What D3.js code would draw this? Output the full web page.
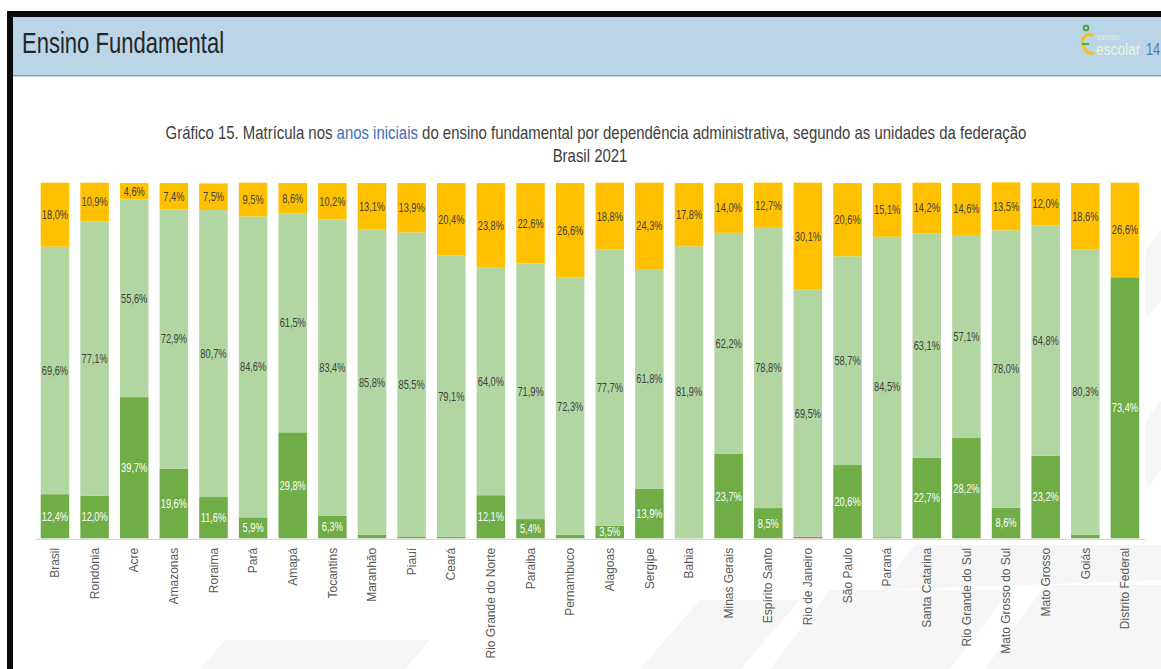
<!DOCTYPE html>
<html lang="pt-BR">
<head>
<meta charset="utf-8">
<script src="https://cdn.jsdelivr.net/npm/d3@7"></script>
<style>
  html, body { margin: 0; padding: 0; background: #fff; }
  svg { display: block; }
</style>
</head>
<body>
<svg id="chart" width="1161" height="669"></svg>
<script>
// Unidades da federação (eixo X)
const categories = [
  "Brasil", "Rondônia", "Acre", "Amazonas", "Roraima", "Pará", "Amapá", "Tocantins",
  "Maranhão", "Piauí", "Ceará", "Rio Grande do Norte", "Paraiba", "Pernambuco",
  "Alagoas", "Sergipe", "Bahia", "Minas Gerais", "Espírito Santo", "Rio de Janeiro",
  "São Paulo", "Paraná", "Santa Catarina", "Rio Grande do Sul", "Mato Grosso do Sul",
  "Mato Grosso", "Goiás", "Distrito Federal"
];

// Participação (%) de cada dependência administrativa
const federal = [
  0, 0, 0, 0, 0, 0, 0, 0, 0, 0, 0, 0, 0, 0,
  0, 0, 0, 0, 0, 0.3, 0, 0, 0, 0, 0, 0, 0, 0
];
const estadual = [
  12.4, 12.0, 39.7, 19.6, 11.6, 5.9, 29.8, 6.3, 1.0, 0.5, 0.4, 12.1, 5.4, 1.0,
  3.5, 13.9, 0.2, 23.7, 8.5, 0.1, 20.6, 0.3, 22.7, 28.2, 8.6, 23.2, 1.0, 73.4
];
const municipal = [
  69.6, 77.1, 55.6, 72.9, 80.7, 84.6, 61.5, 83.4, 85.8, 85.5, 79.1, 64.0, 71.9, 72.3,
  77.7, 61.8, 81.9, 62.2, 78.8, 69.5, 58.7, 84.5, 63.1, 57.1, 78.0, 64.8, 80.3, 0
];
const privada = [
  18.0, 10.9, 4.6, 7.4, 7.5, 9.5, 8.6, 10.2, 13.1, 13.9, 20.4, 23.8, 22.6, 26.6,
  18.8, 24.3, 17.8, 14.0, 12.7, 30.1, 20.6, 15.1, 14.2, 14.6, 13.5, 12.0, 18.6, 26.6
];

const seriesKeys = ["Federal", "Estadual", "Municipal", "Privada"];
const seriesColors = { Federal: "#d9342b", Estadual: "#70ad47", Municipal: "#b1d6a2", Privada: "#ffc000" };
const labelColors = { Federal: "#ffffff", Estadual: "#ffffff", Municipal: "#404040", Privada: "#404040" };

const rows = categories.map((uf, i) => ({
  uf,
  Federal: federal[i],
  Estadual: estadual[i],
  Municipal: municipal[i],
  Privada: privada[i]
}));

const SANS = '"Liberation Sans", Arial, sans-serif';

const svg = d3.select("#chart");
const W = 1161, H = 669;

// Text drawn with horizontally compressed glyphs (narrow typeface look)
function narrowText(parent, cx, cy, size, factor, anchor) {
  return parent.append("text")
    .attr("transform", `translate(${cx},${cy}) scale(${factor},1)`)
    .attr("text-anchor", anchor || "start")
    .attr("font-family", SANS)
    .attr("font-size", size);
}

svg.append("rect").attr("width", W).attr("height", H).attr("fill", "#ffffff");

// Marca d'água clara ao fundo
const wm = svg.append("g").attr("fill", "#f6f6f6");
[
  "M640,669 L700,600 L800,600 L740,669 Z",
  "M770,669 L830,590 L1010,590 L950,669 Z",
  "M985,669 L1045,585 L1161,585 L1161,669 Z",
  "M880,590 L915,545 L1161,545 L1161,580 Z",
  "M1146,420 L1161,400 L1161,470 L1146,490 Z",
  "M1146,250 L1161,230 L1161,300 L1146,320 Z",
  "M200,669 L225,640 L430,640 L405,669 Z"
].forEach(d => wm.append("path").attr("d", d));

// Faixa de cabeçalho da página
svg.append("rect").attr("x", 7).attr("y", 11).attr("width", W - 7).attr("height", 6).attr("fill", "#0a0a0a");
svg.append("rect").attr("x", 7).attr("y", 11).attr("width", 6).attr("height", H - 11).attr("fill", "#0a0a0a");
svg.append("rect").attr("x", 13).attr("y", 17).attr("width", W - 13).attr("height", 58).attr("fill", "#bad5e8");
svg.append("rect").attr("x", 13).attr("y", 75).attr("width", W - 13).attr("height", 1.5).attr("fill", "#7f9fb4");

narrowText(svg, 22, 53, 29, 0.76)
  .attr("fill", "#262626")
  .text("Ensino Fundamental");

// Logotipo do Censo Escolar
const logo = svg.append("g");
logo.append("circle").attr("cx", 1086).attr("cy", 28).attr("r", 2.4)
  .attr("fill", "none").attr("stroke", "#3f9b3a").attr("stroke-width", 1.6);
logo.append("path")
  .attr("d", "M1092,35 C1085,33 1081,39 1083,45 C1084,50 1088,54 1093,53")
  .attr("fill", "none").attr("stroke", "#f2c418").attr("stroke-width", 3).attr("stroke-linecap", "round");
logo.append("path")
  .attr("d", "M1082,44 L1089,44")
  .attr("stroke", "#5aa83a").attr("stroke-width", 2);
logo.append("text").attr("x", 1097).attr("y", 39.5)
  .attr("font-family", SANS).attr("font-size", 8.5).attr("fill", "#e7f3da").text("censo");
narrowText(logo, 1096, 55, 16, 0.86)
  .attr("fill", "#eaf5df").text("escolar");
narrowText(svg, 1146, 55, 16, 0.8)
  .attr("fill", "#4f7fb3").text("14");

// Título do gráfico
const title = narrowText(svg, 596, 139, 18, 0.83, "middle").attr("fill", "#404040");
title.append("tspan").text("Gráfico 15. Matrícula nos ");
title.append("tspan").attr("fill", "#3f6fb8").text("anos iniciais");
title.append("tspan").text(" do ensino fundamental por dependência administrativa, segundo as unidades da federação");

narrowText(svg, 590, 162, 18, 0.83, "middle")
  .attr("fill", "#404040")
  .text("Brasil 2021");

// Escalas
const x = d3.scaleBand()
  .domain(categories)
  .range([35.15, 1144.75])
  .paddingInner(0.28)
  .paddingOuter(0.14);

const y = d3.scaleLinear()
  .domain([0, 100])
  .range([538.3, 182.7]);

const stacked = d3.stack().keys(seriesKeys)(rows);

// Barras empilhadas
const layers = svg.append("g").attr("class", "bars")
  .selectAll("g")
  .data(stacked)
  .join("g")
  .attr("fill", d => seriesColors[d.key]);

layers.selectAll("rect")
  .data(d => d.map(s => ({ key: d.key, s })))
  .join("rect")
  .attr("x", d => x(d.s.data.uf))
  .attr("width", x.bandwidth())
  .attr("y", d => y(d.s[1]))
  .attr("height", d => Math.max(0, y(d.s[0]) - y(d.s[1])));

// Rótulos de valor
const fmt = v => v.toFixed(1).replace(".", ",") + "%";
const labels = svg.append("g").attr("class", "labels");
stacked.forEach(layer => {
  if (layer.key === "Federal") return;
  layer.forEach(s => {
    const v = s.data[layer.key];
    if (v < 3) return;
    narrowText(labels, x(s.data.uf) + x.bandwidth() / 2, (y(s[0]) + y(s[1])) / 2, 12.5, 0.74, "middle")
      .attr("dy", "0.35em")
      .attr("fill", labelColors[layer.key])
      .text(fmt(v));
  });
});

// Eixo X com nomes das UFs
const xAxis = svg.append("g")
  .attr("transform", `translate(0,${y(0) + 0.5})`)
  .call(d3.axisBottom(x).tickSize(0).tickSizeOuter(0));

xAxis.select(".domain").attr("stroke", "#d9d9d9").attr("stroke-width", 1.2);
xAxis.selectAll("text")
  .attr("font-family", SANS)
  .attr("font-size", 12)
  .attr("fill", "#595959")
  .attr("text-anchor", "end")
  .attr("transform", "rotate(-90)")
  .attr("x", -9)
  .attr("y", 0)
  .attr("dy", "0.35em");
</script>
</body>
</html>
